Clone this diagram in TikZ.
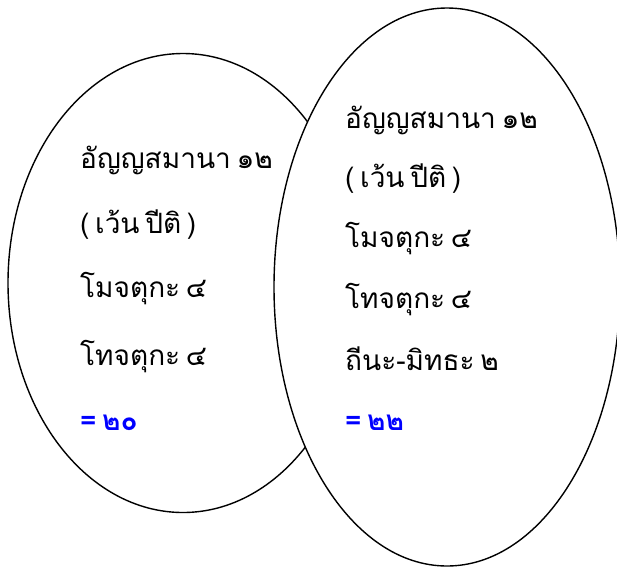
\documentclass[tikz,border=0pt]{standalone}
\usepackage{fontspec}
\usetikzlibrary{shapes.geometric}
\newfontfamily\thaifont[Script=Thai,WordSpace=0.6]{Loma}
\begin{document}
\begin{tikzpicture}[x=1pt,y=-1pt,
  oval/.style={draw=black,line width=1.4pt,fill=white,ellipse,inner sep=0pt},
  txt/.style={anchor=base west,inner sep=0pt,font=\thaifont\fontsize{28}{32}\selectfont},
  sumtxt/.style={anchor=base west,inner sep=0pt,text=blue,font=\thaifont\bfseries\fontsize{28}{32}\selectfont}]
\useasboundingbox (0,0) rectangle (617,568);
\begin{scope}
\clip (0,0) rectangle (617,568);
\node[oval,minimum width=350pt,minimum height=459pt] (L) at (183,283) {};
\node[oval,minimum width=346pt,minimum height=558pt] (R) at (447,287) {};
\end{scope}
\node[txt] (l1) at (80,168) {อัญญสมานา ๑๒};
\node[txt] (l2) at (80,233) {( เว้น ปีติ )};
\node[txt] (l3) at (80,297) {โมจตุกะ ๔};
\node[txt] (l4) at (80,365) {โทจตุกะ ๔};
\node[sumtxt] (l5) at (80,430) {= ๒๐};
\node[txt] (r1) at (345,128) {อัญญสมานา ๑๒};
\node[txt] (r2) at (345,187) {( เว้น ปีติ )};
\node[txt] (r3) at (345,247) {โมจตุกะ ๔};
\node[txt] (r4) at (345,308) {โทจตุกะ ๔};
\node[txt] (r5) at (345,370) {ถีนะ-มิทธะ ๒};
\node[sumtxt] (r6) at (345,430) {= ๒๒};
\end{tikzpicture}
\end{document}
